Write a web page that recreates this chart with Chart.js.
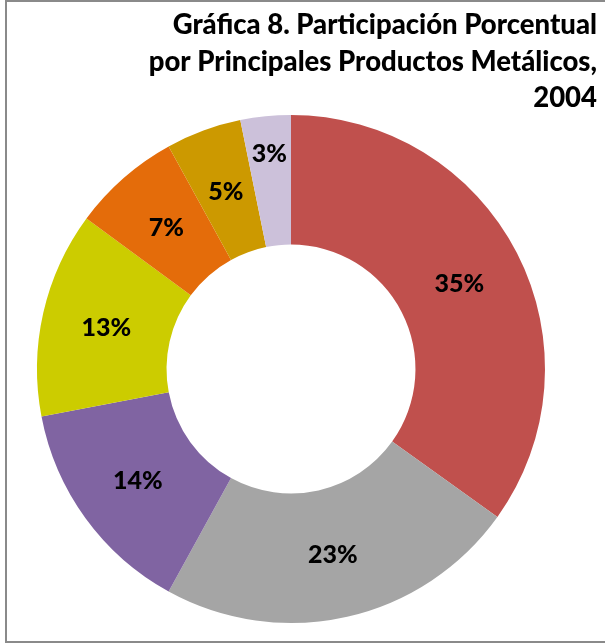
<!DOCTYPE html>
<html>
<head>
<meta charset="utf-8">
<script src="https://cdn.jsdelivr.net/npm/chart.js@4.4.1/dist/chart.umd.min.js"></script>
<style>
  html, body { margin: 0; padding: 0; background: #fff; overflow: hidden; }
  #wrap { position: relative; width: 605px; height: 644px; }
  #frame { position: absolute; left: 5px; top: 0px; width: 620px; height: 643px; border: 2px solid #8a8a8a; box-sizing: border-box; }
  canvas { position: absolute; left: 0; top: 0; }
</style>
</head>
<body>
<div id="wrap">
  <div id="frame"></div>
  <canvas id="chart" width="605" height="644"></canvas>
</div>
<script>
// data (clockwise from 12 o'clock), labels show them rounded
const products = ['Producto 1', 'Producto 2', 'Producto 3', 'Producto 4', 'Producto 5', 'Producto 6', 'Producto 7'];
const shares = [34.9, 23.1, 14.0, 13.1, 6.9, 4.8, 3.2];
const sliceColors = ['#C0504D', '#A5A5A5', '#8064A2', '#CCCC00', '#E46C0A', '#CC9900', '#CCC1DA'];
const titleLines = ['Gráfica 8. Participación Porcentual', 'por Principales Productos Metálicos,', '2004'];

const fontFamily = 'Lato, "Open Sans", sans-serif';

//percent labels in the middle of each ring segment
//(a very thin slice gets its label pushed toward the outer edge, like excel does)
const sliceLabels = {
  id: 'sliceLabels',
  afterDatasetsDraw(chart) {
    const ctx = chart.ctx;
    const meta = chart.getDatasetMeta(0);
    ctx.save();
    ctx.font = '900 25px ' + fontFamily;
    ctx.fillStyle = '#000';
    ctx.textAlign = 'center';
    ctx.textBaseline = 'middle';
    meta.data.forEach((arc, i) => {
      const { x, y, startAngle, endAngle, innerRadius, outerRadius } = arc.getProps(
        ['x', 'y', 'startAngle', 'endAngle', 'innerRadius', 'outerRadius'],
        true
      );
      const mid = (startAngle + endAngle) / 2;
      let r = (innerRadius + outerRadius) / 2;
      if (shares[i] < 4) r = outerRadius - 37;
      const text = Math.round(shares[i]) + '%';
      ctx.fillText(text, x + Math.cos(mid) * r, y + Math.sin(mid) * r + 1);
    });
    ctx.restore();
  },
};

//right aligned title block, drawn outside the layout
const titleBlock = {
  id: 'titleBlock',
  afterDraw(chart) {
    const ctx = chart.ctx;
    const baselines = [34, 71, 107];
    ctx.save();
    ctx.font = '900 27.5px ' + fontFamily;
    ctx.fillStyle = '#000';
    ctx.textAlign = 'right';
    ctx.textBaseline = 'alphabetic';
    titleLines.forEach((line, i) => {
      ctx.fillText(line, 597, baselines[i]);
    });
    ctx.restore();
  },
};

new Chart(document.getElementById('chart'), {
  type: 'doughnut',
  data: {
    labels: products,
    datasets: [
      {
        data: shares,
        backgroundColor: sliceColors,
        borderWidth: 0,
      },
    ],
  },
  options: {
    responsive: false,
    animation: false,
    cutout: '49%',
    layout: { padding: { left: 37, right: 60, top: 115, bottom: 21 } },
    plugins: {
      legend: { display: false },
      tooltip: { enabled: false },
      title: { display: false },
    },
  },
  plugins: [sliceLabels, titleBlock],
});
</script>
</body>
</html>
